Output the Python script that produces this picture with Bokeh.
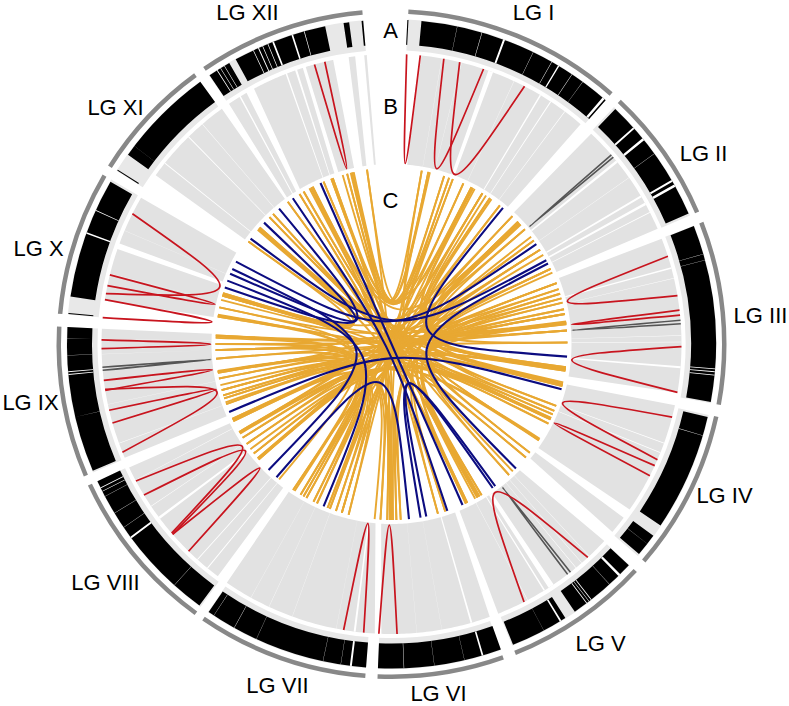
import numpy as np
from bokeh.plotting import figure
from bokeh.models import Range1d
from bokeh.core.properties import value
from bokeh.embed import file_html
from bokeh.resources import INLINE

# angles are degrees clockwise from 12 o'clock
lg_names = ["LG I","LG II","LG III","LG IV","LG V","LG VI","LG VII","LG VIII","LG IX","LG X","LG XI","LG XII"]
lg_start = [2.9,43.2,68.6,102.6,132.9,160.4,184.5,216.0,246.7,275.2,302.2,325.8]
lg_end   = [41.3,66.7,100.5,130.7,158.2,182.4,214.4,245.0,273.0,300.4,323.9,355.0]
lg_label_x = [142,312,369,333,209,47,-114,-286,-361,-353,-276,-144]
lg_label_y = [332,191,29,-151,-299,-349,-341,-238,-58,96,237,332]
track_labels = ["A","B","C"]
track_label_x = [-1,-1,-1]
track_label_y = [314,238,144]

black_start = [5.3,43.6,68.7,103,126.2,133,147.6,160.3,184.5,216.3,247,278.4,305.7,325.9,331.3,351.5,2.8,275.3,302.3,354.7]
black_end   = [41.3,66.3,100.3,124,130.3,145.6,158,182.4,214.3,245,273,300,323.9,330,348.2,352.5,3.0,275.5,302.5,355]
a_slit_pos = [11.7,16.2,20.3,25.9,29.6,31,33.8,36.1,40.8,48.3,50.9,54.1,59.8,60.8,73.9,75,94.4,94.9,95.5,106.4,128,
              135.4,137.8,142,142.5,143,148.6,152,163.7,167,172.4,177.8,187.2,189,192.2,204.6,209,213.2,
              222,233.4,235.6,238.6,242,243,243.7,257,264.6,265.1,268,271,290,294.3,307.6,
              327.5,328.2,329,334.8,335.8,336.6,337.6,338.6,342.2,344.4]
a_slit_w   = [.05,.08,.35,.05,.08,.25,.08,.05,.45,.35,.45,.05,.35,.45,.05,.05,.15,.15,.15,.08,.03,
              .45,.04,.15,.1,.15,.3,.03,.3,.04,.04,.08,.35,.05,.05,.05,.06,.06,
              .04,.35,.05,.06,.06,.08,.15,.03,.15,.15,.03,.03,.25,.15,.04,
              .15,.1,.1,.12,.18,.12,.12,.3,.3,.12]

band_out_1 = [5.9,43.5,68.7,102.2,126.8,132.8,160.2,183.3,216.8,246.9,278.6,290.3,305.6,325.9,328.7,331.7,338.9,341,342.8,351.5,354.6]
band_out_2 = [40.7,66.6,99.7,124.8,130.4,158.4,182,214.6,244.8,273,289.1,300.3,324.2,328.4,330,338.6,340.6,342.2,348.4,352.8,355.1]
band_in_1  = [5,42.9,68.5,103,127,134.5,159.3,185.1,217,246.3,278.6,290.3,305.5,324.5,326.8,329.4,337.7,340,342.8,350.7,354.4]
band_in_2  = [40.3,66.4,100.4,125.3,129.5,157.8,183.3,214.8,243.9,273.3,289.1,300.5,323.7,326.5,328,337.5,339.8,341.5,348,352,355]
b_slit_pos = [10,14,20,25,30.9,33.3,36.7,51,55,59.4,61.1,63,74.8,76.9,88.3,89.6,94.6,110,112,137,139,140.5,146.6,148.2,152,
              164,170,175,187.3,191,200,205,209,219.4,222,233.2,236,242,250,258,268,271,284,293,308.6,315.6,319.3]
b_slit_w   = [.06,.06,1.0,.06,.3,.2,.12,.5,.1,.4,.5,.2,.3,.1,.1,.1,.4,.15,.15,.1,.1,.1,1.2,.3,.1,
              .35,.04,.04,.4,.04,.06,.06,.06,.2,.2,.5,.1,.1,.1,.04,.04,.04,.04,.04,.2,.2,.12]

red_links = [(3,5.7),(10.4,18.5),(13.6,27.3),(72.4,80.4),(83.3,84.3),(90.5,99.6),(104.6,113.5),(114.8,117),
             (137.4,152.8),(178.9,182.5),(185.5,189.5),(224.4,229),(229.3,241.8),(229,238.6),(248.1,261),
             (254.2,256.8),(260.8,262.8),(269.1,270.8),(275.2,278.8),(281.6,283.8),(280,296.7),(344.6,346.7)]
grey_links = [(49.3,49.9),(85.3,86),(141.9,142.6),(264.8,265.4)]

orange_links = [(343.9,9.9),(345.4,12.1),(347.6,12.6),(346.6,17.4),(347.1,19.1),(352,20.4),(340.5,24.1),(340,27),
    (27.6,83),(28.2,82.6),(31.1,85.6),(32.5,89.5),(34,97.6),(34.6,98.2),(38,98.8),(43.4,102.6),(46,103.2),
    (46.6,103.8),(47,110.6),(49.3,112.3),
    (52.5,154.5),(54,155),(57.6,162.2),(59.6,164.7),(64.7,177),(66.1,178.4),(69.8,128.2),(71.8,136.4),(73.4,138.1),
    (75,149.2),(76.4,150),(78.6,150.8),(80.2,151.6),(83.5,179.5),
    (113.6,229),(114.8,229.5),(115.4,231.5),(116.9,233.3),(122.6,235.4),(123.2,237.8),(130.2,239.4),
    (180,244),(180.6,244.8),(181.4,250),(183.6,250.6),(185.5,252),(194.1,253),(196.4,254.8),(198.4,256.5),
    (200.5,258.7),(201.3,260.6),(205.1,261.2),(206.3,265.2),(208.9,268),(210,270),(211.1,272),(213.4,272.8),(214,279),
    (219.7,279.6),(240,282),(284.5,305.6),(286,310.5),(286.8,311),
    (311.5,82.9),(316.1,98),(317.7,115.1),(323.9,103.1),(328.5,154.8),(330.1,123),(332.2,150.4),(332.8,180.3),
    (333.4,46.3),(337.3,27.5),(260.9,83.2),(272.4,83.6),(279.3,115),(286.4,46.2),(229.2,47.3),(239.7,98.4),(244.4,103.5),
    (9.9,150),(12.1,180),(17.4,205),(20.4,196.4),(24.1,210),(31.1,229.5),(38,200.5),(43.4,240),(49.3,260.6),(57.6,250),
    (64.7,268),(71.8,272.8),(75,282),(78.6,253),(83,286),(97.6,305.6),(103.2,311),(110.6,316.1),(113.6,286.8),(116.9,252),
    (123,330),(128.2,337.3),(138.1,333.4),(150.8,340),(155,311.5),(162.2,328.5),(164.7,345.4),(178.4,352),(181.4,347.1),
    (194.1,19.1),(198.4,34),(201.3,46),(206.3,54),(211.1,69.8),(231.5,73.4),(237.8,76.4),(244.8,80.2),(254.8,85.6),
    (258.7,98.2),(265.2,89.5),
    (69.8,229),(80.2,244),(85.6,270),(98.8,254.8),(103.8,279),(112.3,268),(115.4,260.9),(130.2,286),
    (149.2,317.7),(154.5,323.9),(177,332.8),(183.6,340.5),(196.4,27),(208.9,31.1),(214,57.6),(235.4,64.7)]
blue_links = [(39.3,94.1),(55.4,297.9),(61.6,306.8),(62.8,135),(104.9,247.3),(143.9,170.5),(144.9,168.6),
    (156.2,336.2),(161.5,325.9),(174.3,220.8),(224.3,295.2),(202.7,291.1),(288.7,320.3),(293.5,313.6)]

GREY, TRACK, BAND = "#888888", "#e8e8e8", "#e2e2e2"
RED, DARK, ORANGE, BLUE = "#c8141e", "#555555", "#e8a832", "#0c0c80"

def ang(a):
    return np.radians(90 - np.asarray(a, dtype=float))

p = figure(width=789, height=706, output_backend="svg", toolbar_location=None,
           x_range=Range1d(-391, 398), y_range=Range1d(-362.5, 343.5), min_border=0)
p.axis.visible = False
p.grid.visible = False
p.outline_line_color = None
p.background_fill_color = "white"

def ring(a1, a2, r0, r1, color):
    p.annular_wedge(x=0, y=0, inner_radius=r0, outer_radius=r1, start_angle=ang(a2), end_angle=ang(a1),
                    direction="anticlock", fill_color=color, line_color=None)

ring(lg_start, lg_end, 330.5, 335, GREY)
ring(lg_start, lg_end, 294, 325, TRACK)
ring(black_start, black_end, 299.5, 324.5, "black")
pos, w = np.array(a_slit_pos), np.array(a_slit_w)
ring(pos - w/2, pos + w/2, 299.5, 324.5, "white")

xs, ys = [], []
for o1, o2, i1, i2 in zip(band_out_1, band_out_2, band_in_1, band_in_2):
    t = np.concatenate([ang(np.linspace(o1, o2, 40)), ang(np.linspace(i2, i1, 40))])
    r = np.concatenate([np.full(40, 290.0), np.full(40, 180.0)])
    xs.append(r * np.cos(t)); ys.append(r * np.sin(t))
p.patches(xs, ys, fill_color=BAND, line_color=None)
pos, w = np.array(b_slit_pos), np.array(b_slit_w)
ring(pos - w/2, pos + w/2, 180, 290, "white")

def ribbons(pairs, R, tip, color, width):
    # both control points sit together on the bisector, so the crest reaches radius `tip`
    a1 = np.array([q[0] for q in pairs], dtype=float); a2 = np.array([q[1] for q in pairs], dtype=float)
    half = np.radians(np.abs(a2 - a1) / 2)
    c = (8 * tip - 2 * R * np.cos(half)) / 6
    m = ang((a1 + a2) / 2); a = ang(a1); b = ang(a2)
    cx, cy = c*np.cos(m), c*np.sin(m)
    p.bezier(x0=R*np.cos(a), y0=R*np.sin(a), x1=R*np.cos(b), y1=R*np.sin(b),
             cx0=cx, cy0=cy, cx1=cx, cy1=cy, line_color=color, line_width=width)

def links(pairs, R, rb, color, width):
    a = ang([q[0] for q in pairs]); b = ang([q[1] for q in pairs])
    p.bezier(x0=R*np.cos(a), y0=R*np.sin(a), x1=R*np.cos(b), y1=R*np.sin(b),
             cx0=rb*np.cos(a), cy0=rb*np.sin(a), cx1=rb*np.cos(b), cy1=rb*np.sin(b),
             line_color=color, line_width=width)

ribbons(grey_links, 290, 181, DARK, 1.6)
ribbons(red_links, 290, 181, RED, 1.7)
links(orange_links, 176, 0, ORANGE, 1.9)
links(blue_links, 176, 0, BLUE, 2.1)

p.text(lg_label_x, lg_label_y, text=lg_names, text_font=value("Liberation Sans"), text_font_size="22px",
       text_align="center", text_baseline="middle", text_color="black")
p.text(track_label_x, track_label_y, text=track_labels, text_font=value("Liberation Sans"), text_font_size="22px",
       text_align="center", text_baseline="middle", text_color="black")

open("out.html", "w").write(file_html(p, INLINE))
